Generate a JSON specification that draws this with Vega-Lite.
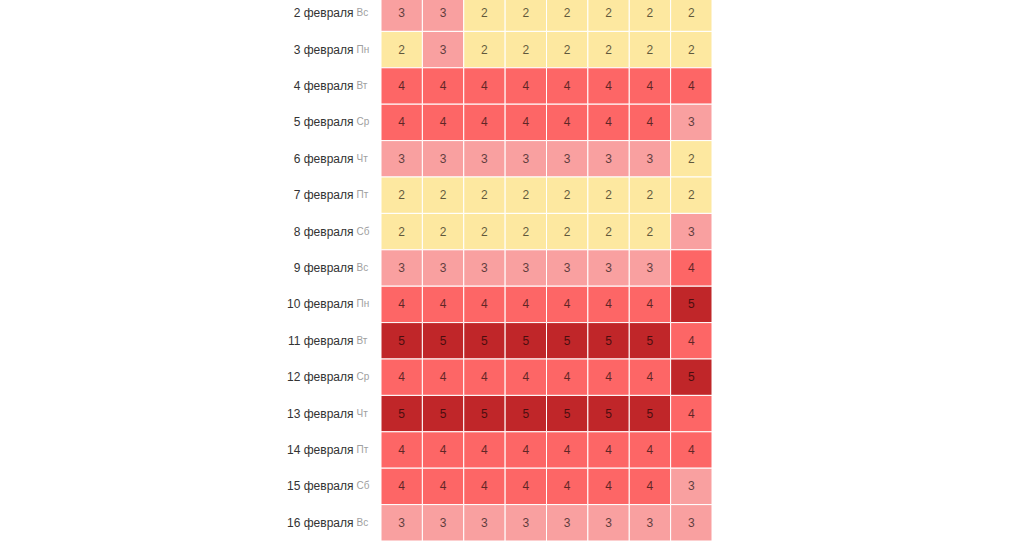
{
  "$schema": "https://vega.github.io/schema/vega-lite/v6.json",
  "width": 331,
  "height": 546,
  "autosize": {"type": "none"},
  "padding": {"left": 381, "top": -5, "right": 312, "bottom": 12},
  "background": "white",
  "config": {"view": {"stroke": null}, "font": "Liberation Sans"},
  "data": {"values": [
    {"r":"2 февраля|Вс","c":1,"v":3},{"r":"2 февраля|Вс","c":2,"v":3},{"r":"2 февраля|Вс","c":3,"v":2},{"r":"2 февраля|Вс","c":4,"v":2},{"r":"2 февраля|Вс","c":5,"v":2},{"r":"2 февраля|Вс","c":6,"v":2},{"r":"2 февраля|Вс","c":7,"v":2},{"r":"2 февраля|Вс","c":8,"v":2},
    {"r":"3 февраля|Пн","c":1,"v":2},{"r":"3 февраля|Пн","c":2,"v":3},{"r":"3 февраля|Пн","c":3,"v":2},{"r":"3 февраля|Пн","c":4,"v":2},{"r":"3 февраля|Пн","c":5,"v":2},{"r":"3 февраля|Пн","c":6,"v":2},{"r":"3 февраля|Пн","c":7,"v":2},{"r":"3 февраля|Пн","c":8,"v":2},
    {"r":"4 февраля|Вт","c":1,"v":4},{"r":"4 февраля|Вт","c":2,"v":4},{"r":"4 февраля|Вт","c":3,"v":4},{"r":"4 февраля|Вт","c":4,"v":4},{"r":"4 февраля|Вт","c":5,"v":4},{"r":"4 февраля|Вт","c":6,"v":4},{"r":"4 февраля|Вт","c":7,"v":4},{"r":"4 февраля|Вт","c":8,"v":4},
    {"r":"5 февраля|Ср","c":1,"v":4},{"r":"5 февраля|Ср","c":2,"v":4},{"r":"5 февраля|Ср","c":3,"v":4},{"r":"5 февраля|Ср","c":4,"v":4},{"r":"5 февраля|Ср","c":5,"v":4},{"r":"5 февраля|Ср","c":6,"v":4},{"r":"5 февраля|Ср","c":7,"v":4},{"r":"5 февраля|Ср","c":8,"v":3},
    {"r":"6 февраля|Чт","c":1,"v":3},{"r":"6 февраля|Чт","c":2,"v":3},{"r":"6 февраля|Чт","c":3,"v":3},{"r":"6 февраля|Чт","c":4,"v":3},{"r":"6 февраля|Чт","c":5,"v":3},{"r":"6 февраля|Чт","c":6,"v":3},{"r":"6 февраля|Чт","c":7,"v":3},{"r":"6 февраля|Чт","c":8,"v":2},
    {"r":"7 февраля|Пт","c":1,"v":2},{"r":"7 февраля|Пт","c":2,"v":2},{"r":"7 февраля|Пт","c":3,"v":2},{"r":"7 февраля|Пт","c":4,"v":2},{"r":"7 февраля|Пт","c":5,"v":2},{"r":"7 февраля|Пт","c":6,"v":2},{"r":"7 февраля|Пт","c":7,"v":2},{"r":"7 февраля|Пт","c":8,"v":2},
    {"r":"8 февраля|Сб","c":1,"v":2},{"r":"8 февраля|Сб","c":2,"v":2},{"r":"8 февраля|Сб","c":3,"v":2},{"r":"8 февраля|Сб","c":4,"v":2},{"r":"8 февраля|Сб","c":5,"v":2},{"r":"8 февраля|Сб","c":6,"v":2},{"r":"8 февраля|Сб","c":7,"v":2},{"r":"8 февраля|Сб","c":8,"v":3},
    {"r":"9 февраля|Вс","c":1,"v":3},{"r":"9 февраля|Вс","c":2,"v":3},{"r":"9 февраля|Вс","c":3,"v":3},{"r":"9 февраля|Вс","c":4,"v":3},{"r":"9 февраля|Вс","c":5,"v":3},{"r":"9 февраля|Вс","c":6,"v":3},{"r":"9 февраля|Вс","c":7,"v":3},{"r":"9 февраля|Вс","c":8,"v":4},
    {"r":"10 февраля|Пн","c":1,"v":4},{"r":"10 февраля|Пн","c":2,"v":4},{"r":"10 февраля|Пн","c":3,"v":4},{"r":"10 февраля|Пн","c":4,"v":4},{"r":"10 февраля|Пн","c":5,"v":4},{"r":"10 февраля|Пн","c":6,"v":4},{"r":"10 февраля|Пн","c":7,"v":4},{"r":"10 февраля|Пн","c":8,"v":5},
    {"r":"11 февраля|Вт","c":1,"v":5},{"r":"11 февраля|Вт","c":2,"v":5},{"r":"11 февраля|Вт","c":3,"v":5},{"r":"11 февраля|Вт","c":4,"v":5},{"r":"11 февраля|Вт","c":5,"v":5},{"r":"11 февраля|Вт","c":6,"v":5},{"r":"11 февраля|Вт","c":7,"v":5},{"r":"11 февраля|Вт","c":8,"v":4},
    {"r":"12 февраля|Ср","c":1,"v":4},{"r":"12 февраля|Ср","c":2,"v":4},{"r":"12 февраля|Ср","c":3,"v":4},{"r":"12 февраля|Ср","c":4,"v":4},{"r":"12 февраля|Ср","c":5,"v":4},{"r":"12 февраля|Ср","c":6,"v":4},{"r":"12 февраля|Ср","c":7,"v":4},{"r":"12 февраля|Ср","c":8,"v":5},
    {"r":"13 февраля|Чт","c":1,"v":5},{"r":"13 февраля|Чт","c":2,"v":5},{"r":"13 февраля|Чт","c":3,"v":5},{"r":"13 февраля|Чт","c":4,"v":5},{"r":"13 февраля|Чт","c":5,"v":5},{"r":"13 февраля|Чт","c":6,"v":5},{"r":"13 февраля|Чт","c":7,"v":5},{"r":"13 февраля|Чт","c":8,"v":4},
    {"r":"14 февраля|Пт","c":1,"v":4},{"r":"14 февраля|Пт","c":2,"v":4},{"r":"14 февраля|Пт","c":3,"v":4},{"r":"14 февраля|Пт","c":4,"v":4},{"r":"14 февраля|Пт","c":5,"v":4},{"r":"14 февраля|Пт","c":6,"v":4},{"r":"14 февраля|Пт","c":7,"v":4},{"r":"14 февраля|Пт","c":8,"v":4},
    {"r":"15 февраля|Сб","c":1,"v":4},{"r":"15 февраля|Сб","c":2,"v":4},{"r":"15 февраля|Сб","c":3,"v":4},{"r":"15 февраля|Сб","c":4,"v":4},{"r":"15 февраля|Сб","c":5,"v":4},{"r":"15 февраля|Сб","c":6,"v":4},{"r":"15 февраля|Сб","c":7,"v":4},{"r":"15 февраля|Сб","c":8,"v":3},
    {"r":"16 февраля|Вс","c":1,"v":3},{"r":"16 февраля|Вс","c":2,"v":3},{"r":"16 февраля|Вс","c":3,"v":3},{"r":"16 февраля|Вс","c":4,"v":3},{"r":"16 февраля|Вс","c":5,"v":3},{"r":"16 февраля|Вс","c":6,"v":3},{"r":"16 февраля|Вс","c":7,"v":3},{"r":"16 февраля|Вс","c":8,"v":3}
  ]},
  "resolve": {"axis": {"y": "independent"}},
  "layer": [
    {
      "mark": {"type": "rect", "stroke": "#ffffff", "strokeWidth": 1},
      "encoding": {
        "x": {"field": "c", "type": "ordinal", "axis": null, "scale": {"paddingInner": 0, "paddingOuter": 0}},
        "y": {"field": "r", "type": "nominal", "sort": null, "scale": {"paddingInner": 0, "paddingOuter": 0},
          "axis": {"orient": "left", "title": null, "domain": false, "ticks": false, "tickSize": 0, "labelPadding": 28,
            "labelExpr": "split(datum.value, '|')[0]", "labelFontSize": 12, "labelColor": "#333333", "labelAlign": "right", "labelFont": "Liberation Sans"}},
        "color": {"field": "v", "type": "ordinal", "legend": null,
          "scale": {"domain": [2, 3, 4, 5], "range": ["#fde8a0", "#f9a0a0", "#fd6666", "#c02629"]}}
      }
    },
    {
      "mark": {"type": "text", "fontSize": 12, "color": "#000000", "opacity": 0.62, "font": "Liberation Sans"},
      "encoding": {
        "x": {"field": "c", "type": "ordinal", "axis": null},
        "y": {"field": "r", "type": "nominal", "sort": null,
          "axis": {"orient": "left", "title": null, "domain": false, "ticks": false, "tickSize": 0, "labelPadding": 25,
            "labelExpr": "split(datum.value, '|')[1]", "labelFontSize": 10, "labelColor": "#a0a0a0", "labelAlign": "left", "labelFont": "Liberation Sans"}},
        "text": {"field": "v", "type": "quantitative"}
      }
    }
  ]
}
